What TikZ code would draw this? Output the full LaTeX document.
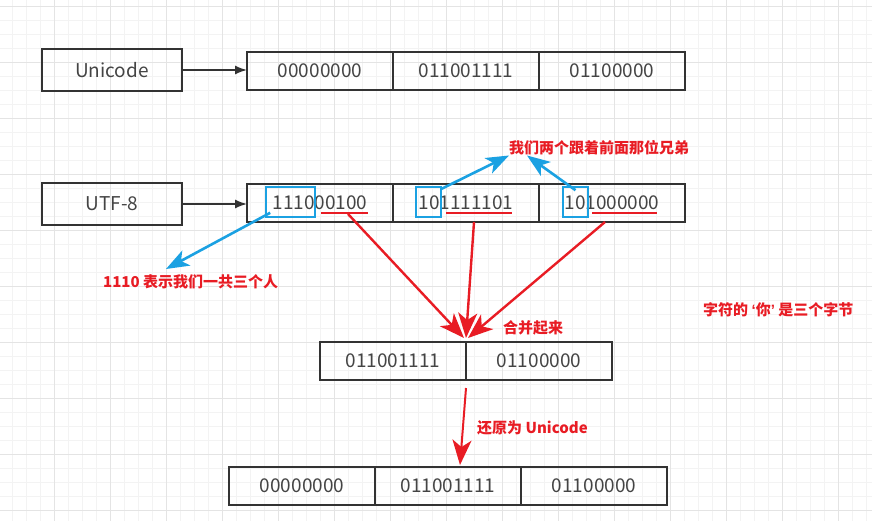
\documentclass[tikz,border=0pt]{standalone}
\usepackage{fontspec}
\setmainfont{Noto Sans CJK SC}
\newfontfamily\quotefont{Liberation Sans}
\usepackage{tikz}
\usetikzlibrary{positioning,arrows.meta}
\definecolor{boxgray}{RGB}{51,51,51}
\definecolor{txtgray}{RGB}{68,68,68}
\definecolor{noteRed}{RGB}{232,28,36}
\definecolor{markBlue}{RGB}{27,161,226}
\definecolor{gridMinor}{RGB}{243,243,243}
\definecolor{gridMajor}{RGB}{228,228,228}

\begin{document}
\begin{tikzpicture}[
    x=1pt, y=-1pt,
    >={Latex[length=12pt,width=9pt]},
    font=\fontsize{19}{22}\selectfont,
    head/.style={
		rectangle,
		draw=boxgray,
		line width=2pt,
		minimum width=140pt,
		minimum height=42pt,
		text=txtgray,
		outer sep=0pt
	},
    cell/.style={
		rectangle,
		draw=boxgray,
		line width=2pt,
		minimum width=146pt,
		minimum height=38pt,
		text=txtgray,
		outer sep=0pt
	},
    hlbox/.style={
		rectangle,
		draw=markBlue,
		line width=1.6pt,
		minimum height=30pt,
		inner sep=0pt
	},
    note/.style={
		text=noteRed,
		font=\fontsize{15}{18}\selectfont\bfseries,
		anchor=west,
		inner sep=0pt
	},
    uline/.style={draw=noteRed, line width=1.6pt},
    bluearrow/.style={draw=markBlue, line width=2.6pt, -{Stealth[length=23pt,width=17pt,inset=6pt]}},
    redarrow/.style={draw=noteRed, line width=2.4pt, -{Stealth[length=25pt,width=19pt,inset=7pt]}}
  ]
  \useasboundingbox (0,0) rectangle (872,521);

  % the grid behind everything
  \begin{scope}
  \clip (0,0) rectangle (872,521);
  \foreach \gx in {0,...,62} \draw[gridMinor, line width=0.8pt] ({\gx*14-1.3},0) -- ++(0,521);
  \foreach \gy in {0,...,37} \draw[gridMinor, line width=0.8pt] (0,{\gy*14+6.3}) -- ++(872,0);
  \foreach \gx in {0,...,16} \draw[gridMajor, line width=0.8pt] ({\gx*56-1.3},0) -- ++(0,521);
  \foreach \gy in {0,...,9} \draw[gridMajor, line width=0.8pt] (0,{\gy*56+6.3}) -- ++(872,0);
  \end{scope}

  % We start by placing the blocks
  \node [head] (uni) at (112,70) {Unicode};
  \node [cell] (u1) at (320,71) {00000000};
  \node [cell, right=0pt of u1] (u2) {011001111};
  \node [cell, right=0pt of u2] (u3) {01100000};

  \node [head] (utf) at (112,204) {UTF-8};
  \node [cell] (f1) at (320,203) {111000100};
  \node [cell, right=0pt of f1] (f2) {101111101};
  \node [cell, right=0pt of f2] (f3) {101000000};

  \node [cell] (m1) at (393,361) {011001111};
  \node [cell, right=0pt of m1] (m2) {01100000};

  \node [cell] (b1) at (302,486) {00000000};
  \node [cell, right=0pt of b1] (b2) {011001111};
  \node [cell, right=0pt of b2] (b3) {01100000};

  \draw [->, draw=boxgray, line width=1.5pt] (uni.east) -- (uni.east -| u1.west);
  \draw [->, draw=boxgray, line width=1.5pt] (utf.east) -- (utf.east -| f1.west);

  % marks on the utf-8 bytes
  \node [hlbox, minimum width=49pt] (h1) at (290.5,202) {};
  \node [hlbox, minimum width=25pt] (h2) at (428.5,202) {};
  \node [hlbox, minimum width=25pt] (h3) at (575.5,202) {};
  \draw [uline] (321,213) -- (368,213);
  \draw [uline] (446,213) -- (512,213);
  \draw [uline] (592,213) -- (657,213);

  % the notes
  \node [note] (follow) at (509,148) {我们两个跟着前面那位兄弟};
  \node [note] (three) at (103,282) {1110 表示我们一共三个人};
  \node [note] (merge) at (503,328) {合并起来};
  \node [note] (bytes) at (703,310) {字符的 {\quotefont\textquoteleft}你{\quotefont\textquoteright} 是三个字节};
  \node [note] (back) at (477,428) {还原为 Unicode};

  \coordinate (tip1) at (166,269);
  \draw [bluearrow] ([xshift=5pt,yshift=5pt]h1.south west) -- (tip1);
  \draw [bluearrow] ([xshift=-1pt,yshift=-3pt]h2.north east) -- (follow.south west);
  \draw [bluearrow] ([yshift=-4pt]h3.north) -- ([xshift=18pt]follow.south west);

  \coordinate (s1) at (348,214);
  \coordinate (join) at ([yshift=4pt]m1.north east);
  \draw [redarrow] (s1) -- ([xshift=-2pt]join);
  \draw [redarrow] ([xshift=8pt]f2.south) -- (join);
  \draw [redarrow] ([xshift=-7pt]f3.south) -- ([xshift=2pt]join);
  \draw [redarrow, line width=2pt] ([yshift=-8pt]m1.south east) -- ([xshift=12pt,yshift=2pt]b2.north);

\end{tikzpicture}
\end{document}
